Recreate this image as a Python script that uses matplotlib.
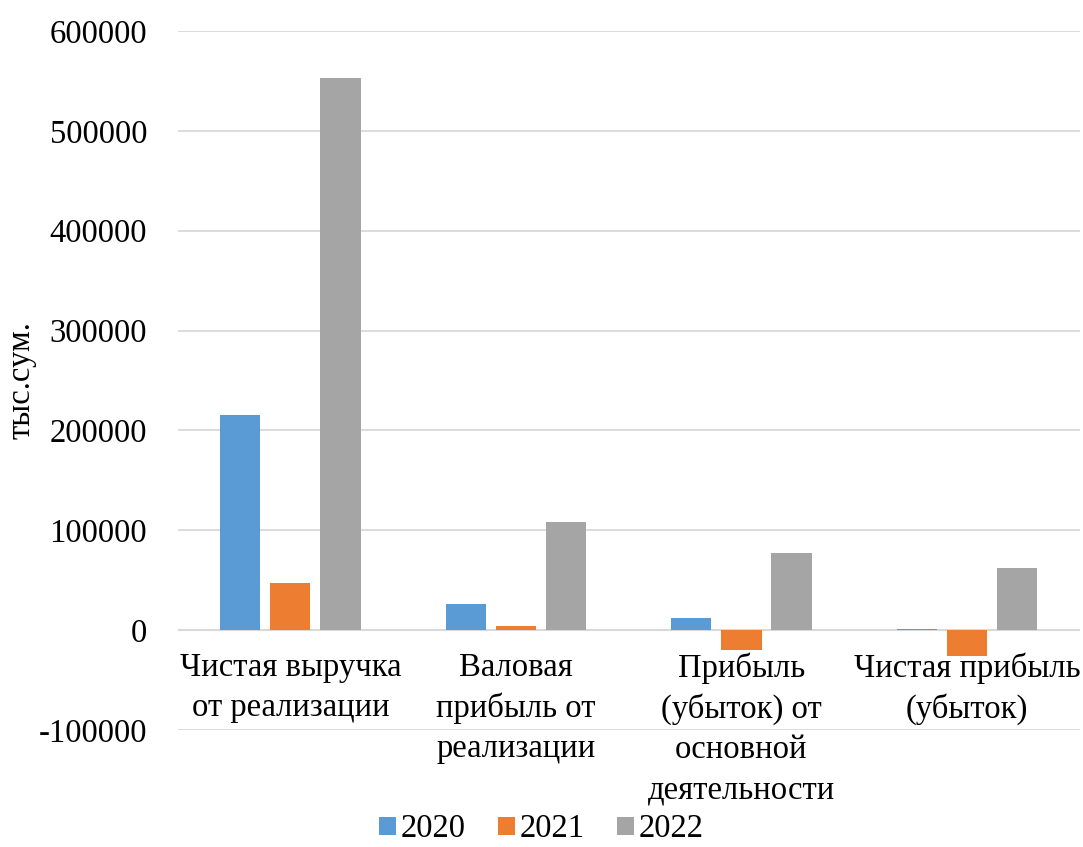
import numpy as np
from matplotlib import pyplot as plt

plt.rcParams['font.family'] = ['Liberation Serif', 'DejaVu Serif']
plt.rcParams['axes.unicode_minus'] = False

categories = ["Чистая выручка\nот реализации",
              "Валовая\nприбыль от\nреализации",
              "Прибыль\n(убыток) от\nосновной\nдеятельности",
              "Чистая прибыль\n(убыток)"]
years = ["2020", "2021", "2022"]
v2020 = [215500, 26000, 12000, 1500]
v2021 = [47500, 4000, -20000, -26000]
v2022 = [553000, 108000, 77000, 62000]
colors = ["#5B9BD5", "#ED7D31", "#A5A5A5"]

fs = 23.5
fig = plt.figure(figsize=(10.83, 8.47), dpi=100)
ax = fig.add_axes([0.164, 0.1381, 0.833, 0.8253])

x = np.arange(len(categories))
w = 0.178
step = 0.222
for i, (vals, yr, c) in enumerate(zip([v2020, v2021, v2022], years, colors)):
    ax.bar(x + (i - 1) * step, vals, width=w, color=c, label=yr, zorder=3)

ax.set_xlim(-0.5, len(categories) - 0.5)
ax.set_ylim(-100000, 600000)
ax.set_yticks(np.arange(-100000, 600001, 100000))
ax.yaxis.grid(True, color="#D9D9D9", linewidth=1.3, zorder=0)
ax.axhline(0, color="#D9D9D9", linewidth=1.5, zorder=2)
for s in ax.spines.values():
    s.set_visible(False)
ax.tick_params(axis='y', length=0, labelsize=fs, pad=22)
ax.set_xticks([])

for xi, lab in zip(x, categories):
    ax.annotate(lab, (xi, 0), xytext=(0, -16), textcoords='offset points',
                ha='center', va='top', fontsize=fs, linespacing=1.4)

ax.set_ylabel("тыс.сум.", fontsize=fs)
ax.yaxis.set_label_coords(-0.173, 0.5)
ax.yaxis.label.set_va('center')

fig.legend(loc='center', bbox_to_anchor=(0.5, 0.021), ncol=3, frameon=False,
           fontsize=fs, handlelength=0.5, handleheight=0.5, handletextpad=0.15,
           columnspacing=1.0, borderpad=0.1)

fig.savefig("out.png", dpi=100)
